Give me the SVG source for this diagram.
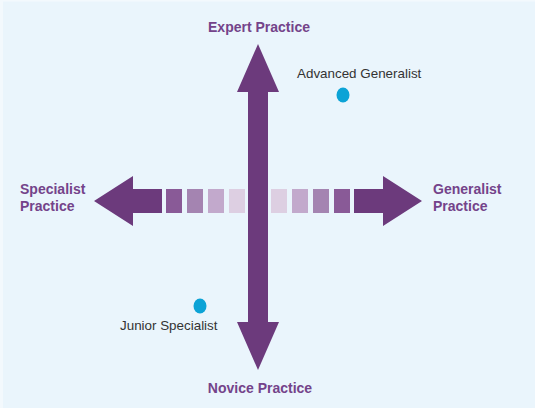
<svg xmlns="http://www.w3.org/2000/svg" width="535" height="408" viewBox="0 0 535 408">
  <style>
    .axis { fill: #6c3a7c; }
    .pole { font-family: "Liberation Sans", Arial, sans-serif; font-weight: bold; font-size: 14px; fill: #74438a; }
    .tag { font-family: "Liberation Sans", Arial, sans-serif; font-size: 13.4px; fill: #333333; }
    .dot { fill: #0ca3d6; }
  </style>
  <rect x="0" y="0" width="535" height="408" fill="#eaf5fc"/>
  <rect x="0" y="0" width="3" height="408" fill="#f3f9fd"/>
  <rect x="0" y="0" width="535" height="1.5" fill="#f3f9fd"/>

  <g id="connectors">
    <!-- horizontal axis: arrow heads with shafts, graded steps between -->
    <g id="horizontal-axis">
      <polygon class="axis" points="94,201 133,176 133,189 162,189 162,213 133,213 133,226"/>
      <polygon class="axis" points="422,201 383,176 383,189 354,189 354,213 383,213 383,226"/>
      <rect x="166" y="189" width="16" height="24" fill="#895a97"/>
      <rect x="187" y="189" width="16" height="24" fill="#a484b1"/>
      <rect x="208" y="189" width="16" height="24" fill="#c2a9cc"/>
      <rect x="229" y="189" width="16" height="24" fill="#ddcfe2"/>
      <rect x="271" y="189" width="16" height="24" fill="#ddcfe2"/>
      <rect x="292" y="189" width="16" height="24" fill="#c2a9cc"/>
      <rect x="313" y="189" width="16" height="24" fill="#a484b1"/>
      <rect x="334" y="189" width="16" height="24" fill="#895a97"/>
    </g>
    <!-- vertical axis: double-headed arrow -->
    <polygon id="vertical-axis" class="axis" points="258,44 279,92 268,92 268,322 279,322 258,370 237,322 248,322 248,92 237,92"/>
  </g>

  <g id="expert">
    <text class="pole" x="259" y="32" text-anchor="middle">Expert Practice</text>
  </g>
  <g id="novice">
    <text class="pole" x="260" y="393" text-anchor="middle">Novice Practice</text>
  </g>
  <g id="specialist">
    <text class="pole" x="20" y="194">Specialist</text>
    <text class="pole" x="20" y="211">Practice</text>
  </g>
  <g id="generalist">
    <text class="pole" x="433" y="194">Generalist</text>
    <text class="pole" x="433" y="211">Practice</text>
  </g>
  <g id="advanced-generalist">
    <text class="tag" x="297" y="78">Advanced Generalist</text>
    <ellipse class="dot" cx="343" cy="95" rx="6.5" ry="7.5"/>
  </g>
  <g id="junior-specialist">
    <ellipse class="dot" cx="200" cy="306" rx="6.5" ry="7.5"/>
    <text class="tag" x="120" y="329.5" font-size="14px">Junior Specialist</text>
  </g>
</svg>
